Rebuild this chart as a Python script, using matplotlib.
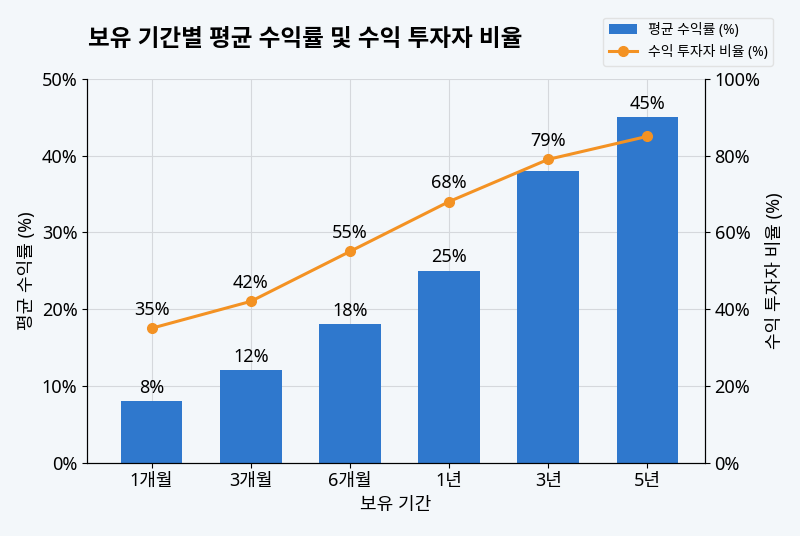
import numpy as np
import matplotlib.pyplot as plt
from matplotlib.ticker import FuncFormatter

plt.rcParams['font.family'] = ['Noto Sans', 'Noto Sans CJK KR', 'DejaVu Sans']

periods = ['1개월', '3개월', '6개월', '1년', '3년', '5년']
avg_return = [8, 12, 18, 25, 38, 45]
profit_ratio = [35, 42, 55, 68, 79, 85]
# labels that are visible in the chart
show_bar_label = [True, True, True, True, False, True]
show_line_label = [True, True, True, True, True, False]

bar_color = '#2f78cd'
line_color = '#f39223'
bg = '#f3f7fa'
fs = 13

fig = plt.figure(figsize=(8, 5.36), dpi=100, facecolor=bg)
ax1 = fig.add_axes([0.109, 0.137, 0.772, 0.716])
ax1.set_facecolor(bg)
x = np.arange(len(periods))

bars = ax1.bar(x, avg_return, width=0.62, color=bar_color, zorder=2,
               label='평균 수익률 (%)')
ax1.set_ylim(0, 50)
ax1.set_xlim(-0.65, 5.58)
ax1.set_xticks(x)
ax1.set_xticklabels(periods, fontsize=fs)
ax1.yaxis.set_major_formatter(FuncFormatter(lambda v, p: f'{v:.0f}%'))
ax1.tick_params(axis='y', labelsize=fs)
ax1.set_xlabel('보유 기간', fontsize=fs, labelpad=4)
ax1.set_ylabel('평균 수익률 (%)', fontsize=fs)
ax1.grid(True, color='#d5d8dc', linewidth=0.8, zorder=0)
ax1.set_axisbelow(True)
ax1.spines['top'].set_visible(False)

for i, (b, v) in enumerate(zip(bars, avg_return)):
    if show_bar_label[i]:
        ax1.text(b.get_x() + b.get_width() / 2, v + 0.6, f'{v}%',
                 ha='center', va='bottom', fontsize=fs)

ax2 = ax1.twinx()
ax2.plot(x, profit_ratio, color=line_color, linewidth=2.2, marker='o',
         markersize=7, label='수익 투자자 비율 (%)')
ax2.set_ylim(0, 100)
ax2.yaxis.set_major_formatter(FuncFormatter(lambda v, p: f'{v:.0f}%'))
ax2.tick_params(axis='y', labelsize=fs)
ax2.set_ylabel('수익 투자자 비율 (%)', fontsize=fs)
ax2.spines['top'].set_visible(False)
for i, v in enumerate(profit_ratio):
    if show_line_label[i]:
        ax2.annotate(f'{v}%', (x[i], v), textcoords='offset points',
                     xytext=(0, 7), ha='center', va='bottom', fontsize=fs)

fig.text(0.11, 0.925, '보유 기간별 평균 수익률 및 수익 투자자 비율',
         fontsize=17, fontweight='bold', ha='left', va='center')

h1, l1 = ax1.get_legend_handles_labels()
h2, l2 = ax2.get_legend_handles_labels()
fig.legend(h1 + h2, l1 + l2, loc='upper right', bbox_to_anchor=(0.975, 0.98),
           fontsize=10, frameon=True, facecolor=bg, edgecolor='#dddddd')

fig.savefig('out.png', dpi=100, facecolor=bg)
